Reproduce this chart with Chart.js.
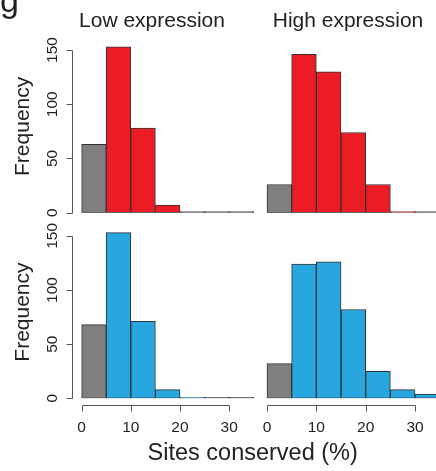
<!DOCTYPE html>
<html>
<head>
<meta charset="utf-8">
<script src="https://cdn.jsdelivr.net/npm/chart.js@4/dist/chart.umd.min.js"></script>
<style>
  html, body { margin: 0; padding: 0; background: #fff; }
  #wrap { position: relative; width: 436px; height: 471px; overflow: hidden; background: #fff; }
  #wrap canvas { position: absolute; left: 0; top: 0; }
</style>
</head>
<body>
<div id="wrap">
  <canvas id="tl" width="470" height="471"></canvas>
  <canvas id="tr" width="470" height="471"></canvas>
  <canvas id="bl" width="470" height="471"></canvas>
  <canvas id="br" width="470" height="471"></canvas>
</div>
<script>
// Histogram bins (% of sites conserved) and counts per panel
const binEdges = [0, 5, 10, 15, 20, 25, 30, 35];
const lowExprRed = [63, 153, 78, 7, 0, 0, 0];
const highExprRed = [26, 146, 130, 74, 26, 1, 0];
const lowExprBlue = [68, 153, 71, 8, 1, 0, 0];
const highExprBlue = [32, 124, 126, 82, 25, 8, 4];

const xTicks = [0, 10, 20, 30];
const yTicks = [0, 50, 100, 150];
const panelTitles = ['Low expression', 'High expression'];
const yTitle = 'Frequency';
const xTitle = 'Sites conserved (%)';
const panelLetter = 'g';

const RED = '#ec1c24';
const BLUE = '#27a6df';
const GRAY = '#7f7f7f';
const EDGE = '#333333';
const EMPTY = '#555555';
const AXIS = '#555555';
const INK = '#222222';
const FONT = '"Liberation Sans", Arial, Helvetica, sans-serif';

const W = 470, H = 471;

// R-style axes and labels drawn against each chart's own scales
const rAxes = {
  id: 'rAxes',
  afterDatasetsDraw(chart, args, opts) {
    const ctx = chart.ctx;
    const xs = chart.scales.x, ys = chart.scales.y;
    const area = chart.chartArea;
    ctx.save();
    ctx.strokeStyle = AXIS;
    ctx.lineWidth = 1;
    ctx.fillStyle = INK;

    if (opts.yAxis) {
      const ax = Math.round(area.left) + 0.5;
      const y0 = ys.getPixelForValue(yTicks[0]);
      const y1 = ys.getPixelForValue(yTicks[yTicks.length - 1]);
      ctx.beginPath();
      ctx.moveTo(ax, Math.round(y0) + 0.5); ctx.lineTo(ax, Math.round(y1) + 0.5);
      yTicks.forEach(v => {
        const py = Math.round(ys.getPixelForValue(v)) + 0.5;
        ctx.moveTo(ax, py); ctx.lineTo(ax - 6, py);
      });
      ctx.stroke();
      ctx.font = '15.5px ' + FONT;
      ctx.textAlign = 'center';
      ctx.textBaseline = 'alphabetic';
      yTicks.forEach(v => {
        const py = ys.getPixelForValue(v);
        ctx.save();
        ctx.translate(56.5, py);
        ctx.rotate(-Math.PI / 2);
        ctx.fillText(String(v), 0, 0);
        ctx.restore();
      });
      // axis title
      ctx.font = '21px ' + FONT;
      ctx.save();
      ctx.translate(29, (y0 + y1) / 2 - 5);
      ctx.rotate(-Math.PI / 2);
      ctx.fillText(yTitle, 0, 0);
      ctx.restore();
    }

    if (opts.xAxis) {
      const ay = Math.round(area.bottom + 7) + 0.5;
      const x0 = xs.getPixelForValue(xTicks[0]);
      const x1 = xs.getPixelForValue(xTicks[xTicks.length - 1]);
      ctx.beginPath();
      ctx.moveTo(Math.round(x0) + 0.5, ay); ctx.lineTo(Math.round(x1) + 0.5, ay);
      xTicks.forEach(v => {
        const px = Math.round(xs.getPixelForValue(v)) + 0.5;
        ctx.moveTo(px, ay); ctx.lineTo(px, ay + 6);
      });
      ctx.stroke();
      ctx.font = '15.5px ' + FONT;
      ctx.textAlign = 'center';
      ctx.textBaseline = 'alphabetic';
      xTicks.forEach(v => {
        ctx.fillText(String(v), xs.getPixelForValue(v), 432);
      });
    }

    if (opts.title) {
      ctx.font = '21px ' + FONT;
      ctx.textAlign = 'center';
      ctx.textBaseline = 'alphabetic';
      ctx.fillText(opts.title, opts.titleX, 27);
    }

    if (opts.extra) opts.extra(ctx);
    ctx.restore();
  }
};

function panel(id, counts, color, area, xRange, axes) {
  const data = counts.map((c, i) => ({ x: (binEdges[i] + binEdges[i + 1]) / 2, y: c }));
  return new Chart(document.getElementById(id), {
    type: 'bar',
    data: {
      datasets: [{
        data: data,
        backgroundColor: counts.map((c, i) => i === 0 ? GRAY : (c === 0 ? EMPTY : color)),
        borderColor: EDGE,
        borderWidth: 1,
        borderSkipped: false,
        barPercentage: 1,
        categoryPercentage: 1,
        minBarLength: 1
      }]
    },
    options: {
      responsive: false,
      animation: false,
      events: [],
      layout: { padding: { left: area.left, top: area.top, right: W - area.right, bottom: H - area.bottom } },
      plugins: { legend: { display: false }, tooltip: { enabled: false }, title: { display: false }, rAxes: axes },
      scales: {
        x: { type: 'linear', min: xRange[0], max: xRange[1], offset: false, display: false },
        y: { type: 'linear', min: 0, max: 160, display: false }
      }
    },
    plugins: [rAxes]
  });
}

const TOP = { top: 39.2, bottom: 212.7 };
const BOT = { top: 225.0, bottom: 398.3 };
const LEFTX = { left: 72.3, right: 260.6 };
const RIGHTX = { left: 257.6, right: 446.6 };
const xRange = [-1.9, 36.4];

panel('tl', lowExprRed, RED, { ...LEFTX, ...TOP }, xRange, {
  yAxis: true, title: panelTitles[0], titleX: 152,
  extra(ctx) {
    ctx.font = '34px ' + FONT;
    ctx.textAlign = 'left';
    ctx.fillText(panelLetter, 0, 12);
  }
});
panel('tr', highExprRed, RED, { ...RIGHTX, ...TOP }, xRange, { title: panelTitles[1], titleX: 348 });
panel('bl', lowExprBlue, BLUE, { ...LEFTX, ...BOT }, xRange, { yAxis: true, xAxis: true });
panel('br', highExprBlue, BLUE, { ...RIGHTX, ...BOT }, xRange, {
  xAxis: true,
  extra(ctx) {
    ctx.font = '23.5px ' + FONT;
    ctx.textAlign = 'center';
    ctx.fillText(xTitle, 252.7, 460);
  }
});
</script>
</body>
</html>
